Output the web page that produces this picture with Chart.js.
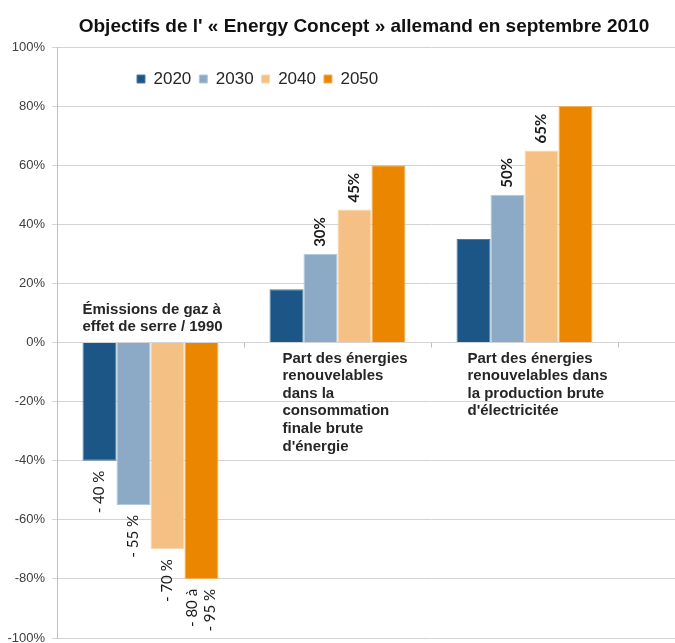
<!DOCTYPE html>
<html><head><meta charset="utf-8">
<script src="https://cdn.jsdelivr.net/npm/chart.js@4"></script>
<style>
html,body{margin:0;padding:0;background:#fff;overflow:hidden;}
#wrap{position:relative;width:675px;height:643px;overflow:hidden;background:#fff;}
#title{position:absolute;left:0;top:16px;width:728px;text-align:center;font:bold 19px 'Liberation Sans',Arial,sans-serif;line-height:19px;color:#111;white-space:nowrap;}
#cv{position:absolute;left:0;top:0;width:820px;height:660px;}
</style></head><body>
<div id="wrap"><canvas id="cv" width="820" height="660"></canvas><div id="title">Objectifs de l' « Energy Concept » allemand en septembre 2010</div></div>
<script>
const categories = [
  ['Émissions de gaz à', 'effet de serre / 1990'],
  ['Part des énergies', 'renouvelables', 'dans la', 'consommation', 'finale brute', "d'énergie"],
  ['Part des énergies', 'renouvelables dans', 'la production brute', "d'électricitée"],
  ['']
];
const seriesNames = ['2020', '2030', '2040', '2050'];
const values2020 = [-40, 18, 35, null];
const values2030 = [-55, 30, 50, null];
const values2040 = [-70, 45, 65, null];
const values2050 = [-80, 60, 80, null];
const labels2020 = [['- 40 %'], [], [], []];
const labels2030 = [['- 55 %'], ['30%'], ['50%'], []];
const labels2040 = [['- 70 %'], ['45%'], ['65%'], []];
const labels2050 = [['- 80 à', '- 95 %'], [], [], []];
const yMin = -100, yMax = 100, yStep = 20;

const colors = ['#1C5686', '#8CAAC6', '#F4C084', '#EB8600'];
const borders = ['#4B7BA3', '#B3C8DA', '#F9D8AE', '#F3AE5A'];
const allValues = [values2020, values2030, values2040, values2050];
const allLabels = [labels2020, labels2030, labels2040, labels2050];

const annot = {
  id: 'annot',
  afterLayout(chart) {
    const lg = chart.legend;
    if (!lg) return;
    const w = lg.width, h = lg.height;
    lg.left = 129; lg.right = 129 + w;
    lg.top = 62.5; lg.bottom = 62.5 + h;
  },
  afterDatasetsDraw(chart) {
    const ctx = chart.ctx;
    const xs = chart.scales.x, ys = chart.scales.y;
    const y0 = ys.getPixelForValue(0);
    ctx.save();
    // category boundary tick marks on the zero line
    ctx.strokeStyle = '#BFBFBF';
    ctx.lineWidth = 1;
    for (let i = 0; i < categories.length - 1; i++) {
      const bx = Math.round(xs.getPixelForValue(i + 0.5)) + 0.5;
      ctx.beginPath(); ctx.moveTo(bx, y0); ctx.lineTo(bx, y0 + 5); ctx.stroke();
    }
    // value labels
    ctx.fillStyle = '#1A1A1A';
    allLabels.forEach((lbls, di) => {
      const meta = chart.getDatasetMeta(di);
      lbls.forEach((lines, i) => {
        if (!lines.length) return;
        const bar = meta.data[i];
        const v = allValues[di][i];
        const neg = v < 0;
        ctx.save();
        ctx.font = (neg ? '' : 'bold ') + '15px Lato, "Open Sans", sans-serif';
        ctx.textBaseline = 'middle';
        const ay = neg ? bar.y + 10 : bar.y - 7;
        ctx.translate(bar.x, ay);
        ctx.rotate(-Math.PI / 2);
        ctx.textAlign = neg ? 'right' : 'left';
        const lh = 18;
        lines.forEach((t, k) => {
          ctx.fillText(t, 0, (k - (lines.length - 1) / 2) * lh);
        });
        ctx.restore();
      });
    });
    // category labels
    ctx.font = 'bold 15px "Liberation Sans", Arial, sans-serif';
    ctx.fillStyle = '#262626';
    ctx.textAlign = 'left';
    ctx.textBaseline = 'middle';
    const offs = [0, 13, 11, 0];
    const meta0 = chart.getDatasetMeta(0);
    categories.forEach((lines, i) => {
      const bar = meta0.data[i];
      if (!bar) return;
      const left = xs.getPixelForValue(i) - (bar.width * 2) + offs[i];
      const v = values2020[i];
      const lh = 17.6;
      const startY = (v !== null && v < 0) ? y0 - 33 : y0 + 16;
      lines.forEach((t, k) => ctx.fillText(t, left, startY + k * lh));
    });
    ctx.restore();
  }
};

new Chart(document.getElementById('cv'), {
  type: 'bar',
  data: {
    labels: categories,
    datasets: seriesNames.map((n, i) => ({
      label: n,
      data: allValues[i],
      backgroundColor: colors[i],
      borderColor: borders[i],
      borderWidth: 1,
      categoryPercentage: 0.727,
      barPercentage: 1.0
    }))
  },
  options: {
    responsive: false,
    animation: false,
    devicePixelRatio: 1,
    layout: { padding: { left: 0, top: 12, right: 15, bottom: 22 } },
    plugins: {
      title: { display: false },
      tooltip: { enabled: false },
      legend: {
        display: true,
        position: 'top',
        align: 'start',
        labels: {
          boxWidth: 8, boxHeight: 8, padding: 8,
          color: '#262626',
          font: { size: 17, family: '"Liberation Sans", Arial, sans-serif' }
        }
      }
    },
    scales: {
      x: { display: false },
      y: {
        min: yMin, max: yMax,
        afterFit(s) { s.width = 57; },
        ticks: {
          stepSize: yStep,
          padding: 7,
          color: '#404040',
          font: { size: 13, family: '"Liberation Sans", Arial, sans-serif' },
          callback: v => v + '%'
        },
        grid: { color: '#D4D4D4', tickLength: 5 },
        border: { color: '#BFBFBF' }
      }
    }
  },
  plugins: [annot]
});
</script>
</body></html>
